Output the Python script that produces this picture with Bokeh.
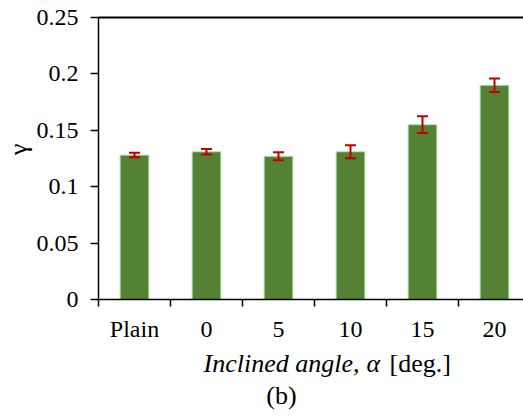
import math

from bokeh.embed import file_html
from bokeh.models import (ColumnDataSource, FixedTicker, Label, LinearAxis,
                          Range1d, Whisker, TeeHead)
from bokeh.plotting import figure
from bokeh.resources import INLINE

# Friction coefficient per surface configuration
categories = ["Plain", "0", "5", "10", "15", "20"]
gamma = [0.128, 0.131, 0.127, 0.131, 0.155, 0.190]
gamma_err = [0.0020, 0.0024, 0.0035, 0.0058, 0.0074, 0.0060]
y_ticks = [0, 0.05, 0.1, 0.15, 0.2, 0.25]
y_tick_labels = ["0", "0.05", "0.1", "0.15", "0.2", "0.25"]

FONT = "Liberation Serif"
TICK_FS = "24px"
LABEL_FS = "26px"

W, H = 523, 419
# pixel position of the data origin and pixel scale of each axis
X0, Y0 = 98, 299
PX_X = 72            # pixels per category
PX_Y = 282 / 0.25    # pixels per unit of gamma
X_END = (W - X0) / PX_X

centers = [i + 0.5 for i in range(len(categories))]
src = ColumnDataSource(dict(
    x=centers,
    top=gamma,
    upper=[g + e for g, e in zip(gamma, gamma_err)],
    lower=[g - e for g, e in zip(gamma, gamma_err)],
))

# the frame fills the whole canvas; the axes sit at x=0 and y=0 inside it
p = figure(
    width=W, height=H,
    x_range=Range1d(-X0 / PX_X, X_END),
    y_range=Range1d(-(H - Y0) / PX_Y, Y0 / PX_Y),
    x_axis_type=None, y_axis_type=None,
    output_backend="svg", toolbar_location=None,
    min_border=0,
)
p.outline_line_color = None
p.background_fill_color = "white"
p.border_fill_color = "white"
p.xgrid.visible = False
p.ygrid.visible = False

p.vbar(x="x", top="top", bottom=0, width=0.4, source=src,
       fill_color="#548235", line_color="#C5DDB5", line_width=1)

whisk = Whisker(base="x", upper="upper", lower="lower", source=src,
                line_color="#C00000", line_width=2, level="overlay",
                upper_head=TeeHead(size=11, line_color="#C00000", line_width=2),
                lower_head=TeeHead(size=11, line_color="#C00000", line_width=2))
p.add_layout(whisk)

# x axis: labels at bar centres, tick marks between categories
xaxis = LinearAxis(fixed_location=0, bounds=(0, X_END))
xaxis.ticker = FixedTicker(ticks=centers, minor_ticks=list(range(len(categories))))
xaxis.major_label_overrides = {c: lab for c, lab in zip(centers, categories)}
xaxis.major_tick_out = 0
xaxis.major_tick_in = 0
xaxis.minor_tick_out = 7
xaxis.minor_tick_in = 0
xaxis.minor_tick_line_color = "black"
xaxis.minor_tick_line_width = 1.5
xaxis.major_label_standoff = 9
p.add_layout(xaxis, "below")

yaxis = LinearAxis(fixed_location=0, bounds=(0, 0.25))
yaxis.ticker = FixedTicker(ticks=y_ticks)
yaxis.major_label_overrides = {t: s for t, s in zip(y_ticks, y_tick_labels)}
yaxis.major_tick_out = 8
yaxis.major_tick_in = 0
yaxis.minor_tick_out = 0
yaxis.minor_tick_in = 0
yaxis.major_label_standoff = 12
p.add_layout(yaxis, "left")

for ax in (xaxis, yaxis):
    ax.axis_line_color = "black"
    ax.axis_line_width = 1.5
    ax.major_tick_line_color = "black"
    ax.major_tick_line_width = 1.5
    ax.major_label_text_font = FONT
    ax.major_label_text_font_size = TICK_FS
    ax.major_label_text_color = "black"

# closing line along the top of the value range
top_axis = LinearAxis(fixed_location=0.25, bounds=(0, X_END),
                      ticker=FixedTicker(ticks=[]),
                      axis_line_color="black", axis_line_width=2,
                      major_tick_out=0, major_tick_in=0,
                      minor_tick_out=0, minor_tick_in=0,
                      major_label_text_alpha=0)
p.add_layout(top_axis, "above")


def lab(text, sx, sy, style="normal", align="left", angle=0.0, baseline="alphabetic"):
    # sx, sy: canvas pixels from the top-left corner
    p.add_layout(Label(x=(sx - X0) / PX_X, y=(Y0 - sy) / PX_Y,
                       text=text, text_font=FONT, text_font_size=LABEL_FS,
                       text_font_style=style, text_align=align,
                       text_baseline=baseline, angle=angle, text_color="black"))

lab("Inclined angle,", 203, 363, style="italic")
lab("\u03b1", 366, 363, style="italic")
lab("[deg.]", 389, 363)
lab("(b)", 281, 395, align="center")
lab("\u03b3", 18, 149, align="center", angle=math.pi / 2, baseline="middle")

open("out.html", "w").write(file_html(p, INLINE))
